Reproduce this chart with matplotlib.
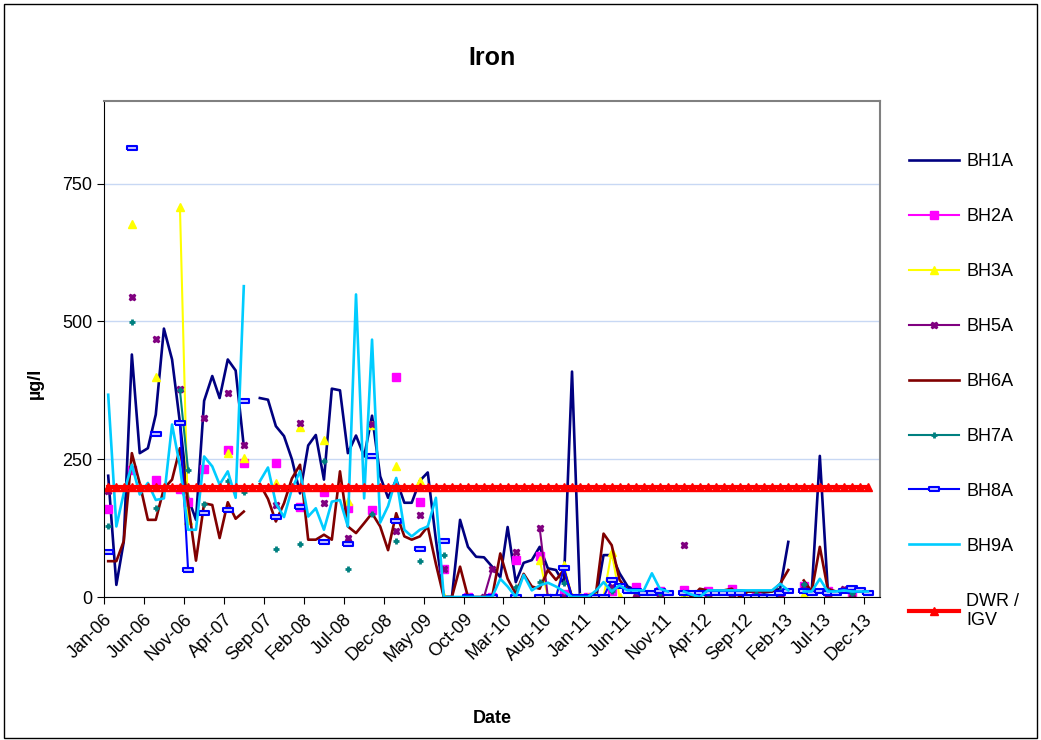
import numpy as np
import pandas as pd
import matplotlib
matplotlib.use('Agg')
import matplotlib.pyplot as plt
from matplotlib.patches import Rectangle

plt.rcParams['font.family'] = ['Liberation Sans', 'DejaVu Sans']

N = None
# sample dates: one per month, Jan-06 .. Dec-13
dates = pd.date_range('2006-01-01', periods=96, freq='MS') + pd.Timedelta(days=16)

bh1a = [220, 22, 100, 440, 261, 270, 331, 487, 431, 316, 180, 140, 356, 401, 361, 431,
        411, 273, N, 361, 358, 310, 292, 250, 188, 275, 294, 213, 378, 375, 261, 293,
        255, 329, 219, 180, 213, 171, 171, 211, 226, 104, 0, 0, 140, 91, 73, 72,
        55, 36, 127, 27, 62, 67, 91, 52, 49, 24, 409, 2, 0, 0, 76, 76, 43, 19,
        13, 10, 8, 10, 8, N, 8, 5, 8, 8, 10, 12, 10, 12, 10, 10, 8, 10, 15, 100,
        N, 12, 8, 256, 15, 8, 10, 12, 10, 8]
bh2a = [159, N, N, 230, N, N, 213, N, N, 196, 172, N, 233, N, N, 267,
        N, 243, N, N, N, 243, N, N, 164, N, N, 191, N, N, 161, N,
        N, 158, N, N, 400, N, N, 173, N, N, 51, N, N, 0, N, N,
        0, N, N, 67, N, N, 75, N, N, 5, N, N, 0, N, N, 10, N, N,
        18, N, N, 10, N, N, 12, N, N, 10, N, N, 15, N, N, 5, N, N, 0, N,
        N, 20, N, N, 10, N, N, 5, N, N]
bh3a = [N, N, N, 676, N, N, 400, N, N, 707, 140, N, N, N, N, 262,
        N, 252, N, N, N, 207, N, N, 308, N, N, 284, N, N, 175, N,
        N, 312, N, N, 238, N, N, 210, N, N, 0, N, N, 0, N, N,
        0, N, N, 0, N, N, 67, 0, 0, 58, 0, 0, 0, 0, 0, 82, 0, N,
        5, N, N, 5, N, N, 5, N, N, 5, N, N, 5, N, N, 0, N, N, 5, N,
        N, 5, N, N, 5, N, N, 5, N, N]
bh5a = [192, N, N, 545, N, N, 468, N, N, 378, N, N, 325, N, N, 370,
        N, 275, N, N, N, 167, N, N, 316, N, N, 171, N, N, 107, N,
        N, 314, N, N, 119, N, N, 148, N, N, 51, N, N, N, N, 0,
        51, N, N, 82, N, N, 125, 0, N, 0, N, N, 0, N, N, 19, N, N,
        5, N, N, 5, N, N, 94, N, N, 5, N, N, 5, N, N, 0, N, N, 5, N,
        N, 20, N, N, 5, N, 15, 5, N, N]
bh6a = [65, 65, 101, 261, 206, 140, 140, 197, 213, 270, 170, 66, 170, 167, 107, 172,
        142, 155, N, 205, 178, 137, 170, 215, 240, 104, 104, 113, 104, 228, 128, 116,
        134, 152, 128, 85, 152, 110, 104, 110, 128, 60, 0, 0, 55, 0, 0, 0,
        0, 79, 33, 6, 42, 19, 15, 49, 31, 49, 0, 0, 0, 10, 115, 94, 31, 12,
        10, 10, 10, 10, 10, N, 10, 0, 15, 12, 12, 12, 15, 0, 10, 10, 10, 10, 24, 49,
        N, 30, 10, 91, 15, 10, 12, 10, 10, 8]
bh7a = [129, N, N, 499, N, N, 161, N, N, 375, 230, N, 168, N, N, 210,
        N, 191, N, N, N, 87, N, N, 96, N, N, 246, N, N, 50, N,
        N, 150, N, N, 102, N, N, 65, N, N, 77, N, N, N, N, N,
        N, N, N, 19, N, N, 27, N, N, 25, N, N, 0, N, N, 10, N, N,
        10, N, N, 8, N, N, 8, N, N, 5, N, N, 8, N, N, 5, N, N, 10, N,
        N, 24, N, N, 10, N, N, 8, N, N]
bh8a = [81, N, N, 815, N, N, 295, N, N, 316, 49, N, 153, N, N, 158,
        N, 356, N, N, N, 146, N, N, 164, N, N, 99, N, N, 96, N,
        N, 255, N, N, 137, N, N, 88, N, N, 102, N, N, 0, N, N,
        0, N, N, 0, N, N, 0, 0, 0, 52, 0, 0, 0, 0, 0, 31, 20, 10,
        10, 8, 8, 10, 8, N, 8, 8, 8, 8, 8, 8, 8, 8, 0, 0, 0, 0, 8, 10,
        N, 10, 8, 10, 8, 8, 10, 16, 12, 8]
bh9a = [367, 128, 188, 240, 186, 207, 176, 179, 313, 237, 122, 122, 255, 237, 204, 228,
        180, 564, N, 210, 235, 170, 145, 196, 228, 146, 161, 122, 173, 176, 128, 549,
        179, 467, 135, 165, 216, 122, 110, 122, 128, 180, 0, 0, 0, 0, 0, 0,
        0, 33, 19, 0, 40, 12, 21, 26, 19, 10, 0, 0, 0, 12, 27, 10, 21, 12,
        12, 12, 43, 15, 10, N, 10, 4, 0, 12, 12, 12, 12, 12, 12, 12, 12, 12, 24, 12,
        N, 10, 10, 33, 10, 10, 12, 10, 10, 10]
dwr = [200] * 96

rect_marker = [(-1, -0.45), (1, -0.45), (1, 0.45), (-1, 0.45), (-1, -0.45)]


def arr(v):
    return np.array([np.nan if x is None else x for x in v], dtype=float)


fig = plt.figure(figsize=(10.41, 7.40), dpi=100)
ax = fig.add_axes([104 / 1041, 1 - 597 / 740, 776 / 1041, 496 / 740])

ax.plot(dates, arr(bh1a), color='#000080', lw=1.9, label='BH1A')
ax.plot(dates, arr(bh2a), color='#FF00FF', lw=1.5, marker='s', ms=5.5, label='BH2A')
ax.plot(dates, arr(bh3a), color='#FFFF00', lw=1.5, marker='^', ms=6, label='BH3A')
ax.plot(dates, arr(bh5a), color='#800080', lw=1.5, marker='X', ms=5, label='BH5A')
ax.plot(dates, arr(bh6a), color='#800000', lw=1.9, label='BH6A')
ax.plot(dates, arr(bh7a), color='#008080', lw=1.5, marker='+', ms=5, mew=2, label='BH7A')
ax.plot(dates, arr(bh8a), color='#0000FF', lw=1.5, marker=rect_marker, ms=7,
        mfc='#c8c8ff', mec='#0000FF', mew=1.5, label='BH8A')
ax.plot(dates, arr(bh9a), color='#00CCFF', lw=1.9, label='BH9A')
ax.plot(dates, dwr, color='#FF0000', lw=3, marker='^', ms=5.5, label='DWR /\nIGV')

ax.set_ylim(0, 900)
ax.set_yticks([0, 250, 500, 750])
ax.set_xlim(pd.Timestamp('2006-01-01'), pd.Timestamp('2014-02-01'))
ticks = pd.date_range('2006-01-01', '2013-12-01', freq='5MS')
ax.set_xticks(ticks)
ax.set_xticklabels([t.strftime('%b-%y') for t in ticks], rotation=45,
                   ha='right', va='top', rotation_mode='anchor', fontsize=13)
ax.tick_params(axis='y', labelsize=13, direction='out', length=5)
ax.tick_params(axis='x', direction='out', length=5, pad=5)
ax.grid(axis='y', color='#c8d8f4', lw=1)
ax.set_axisbelow(True)

for s in ['top', 'right']:
    ax.spines[s].set_color('#808080')
    ax.spines[s].set_linewidth(1.5)

ax.set_title('Iron', fontsize=18, fontweight='bold', pad=26)
ax.set_ylabel('µg/l', fontsize=13, fontweight='bold')
ax.yaxis.set_label_coords(-0.077, 0.43)
ax.set_xlabel('Date', fontsize=13, fontweight='bold')
ax.xaxis.set_label_coords(0.5, -0.228)

ax.legend(loc='upper left', bbox_to_anchor=(893 / 1041, 1 - 137 / 740),
          bbox_transform=fig.transFigure, frameon=False, fontsize=13,
          labelspacing=2.1, handlelength=2.75, handletextpad=0.4, numpoints=1)

fig.patches.append(Rectangle((4 / 1041, 2 / 740), 1033 / 1041, 734 / 740,
                             transform=fig.transFigure, fill=False,
                             edgecolor='black', lw=1))

plt.savefig('out.png', dpi=100)
